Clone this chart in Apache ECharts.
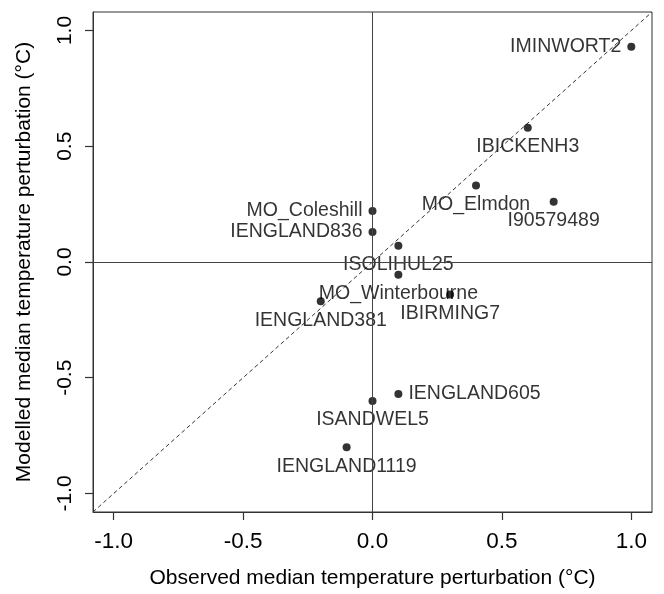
<!DOCTYPE html>
<html>
<head>
<meta charset="utf-8">
<script src="https://cdn.jsdelivr.net/npm/echarts@6/dist/echarts.min.js"></script>
<style>
  html, body { margin: 0; padding: 0; background: #fff; }
  #chart { width: 664px; height: 594px; }
</style>
</head>
<body>
<div id="chart"></div>
<script>
// Weather stations: observed vs modelled median temperature perturbation (°C)
const stations = ['IMINWORT2', 'IBICKENH3', 'MO_Elmdon', 'I90579489', 'MO_Coleshill',
  'IENGLAND836', 'ISOLIHUL25', 'MO_Winterbourne', 'IBIRMING7', 'IENGLAND381',
  'IENGLAND605', 'ISANDWEL5', 'IENGLAND1119'];
const observed = [1.0, 0.6, 0.4, 0.7, 0.0, 0.0, 0.1, 0.1, 0.3, -0.2, 0.1, 0.0, -0.1];
const modelled = [0.93, 0.58, 0.33, 0.26, 0.22, 0.13, 0.07, -0.055, -0.14, -0.17, -0.57, -0.6, -0.8];
// where each station name sits relative to its point
const labelSide = ['left', 'bottom', 'bottom', 'bottom', 'left', 'left', 'bottom',
  'bottom', 'bottom', 'bottom', 'right', 'bottom', 'bottom'];

const tickValues = [-1.0, -0.5, 0.0, 0.5, 1.0];
const axisRange = [-1.08, 1.08];

const FONT = "'Liberation Sans', Arial, Helvetica, sans-serif";
const INK = '#000';
const FRAME = '#333';

const chart = echarts.init(document.getElementById('chart'), null, { renderer: 'canvas' });

function makeAxis(name, isY) {
  return {
    type: 'value',
    min: axisRange[0],
    max: axisRange[1],
    position: isY ? 'left' : 'bottom',
    name: name,
    nameLocation: 'middle',
    nameGap: isY ? 58 : 56,
    nameTextStyle: { fontFamily: FONT, fontSize: 21, color: INK },
    axisLine: { show: true, onZero: false, lineStyle: { color: FRAME, width: 1 } },
    axisTick: {
      show: true, inside: false, length: 8, customValues: tickValues,
      lineStyle: { color: FRAME, width: 1.2 }
    },
    axisLabel: {
      customValues: tickValues,
      formatter: v => v.toFixed(1),
      fontFamily: FONT, fontSize: isY ? 21 : 22.5, color: INK,
      margin: isY ? 17 : 18,
      rotate: isY ? 90 : 0
    },
    splitLine: { show: false }
  };
}

const points = stations.map((s, i) => ({
  value: [observed[i], modelled[i]],
  name: s,
  label: { position: labelSide[i], distance: labelSide[i] === 'bottom' ? 5 : 6 }
}));

chart.setOption({
  animation: false,
  backgroundColor: '#fff',
  grid: {
    left: 93, right: 12, top: 12, bottom: 80,
    show: true, borderColor: FRAME, borderWidth: 1, backgroundColor: 'transparent'
  },
  xAxis: makeAxis('Observed median temperature perturbation (°C)', false),
  yAxis: makeAxis('Modelled median temperature perturbation (°C)', true),
  series: [
    {
      // 1:1 reference line with the zero cross-hairs
      type: 'line',
      data: [[axisRange[0], axisRange[0]], [axisRange[1], axisRange[1]]],
      symbol: 'none',
      silent: true,
      lineStyle: { color: '#333', width: 1, type: [4, 3] },
      markLine: {
        silent: true,
        symbol: 'none',
        label: { show: false },
        lineStyle: { color: '#444', width: 1, type: 'solid' },
        data: [{ xAxis: 0 }, { yAxis: 0 }]
      },
      z: 1
    },
    {
      type: 'scatter',
      data: points,
      symbol: 'circle',
      symbolSize: 8,
      itemStyle: { color: '#000' },
      label: {
        show: true,
        formatter: p => p.name,
        fontFamily: FONT, fontSize: 19.5, color: INK
      },
      z: 3
    }
  ]
});
</script>
</body>
</html>
